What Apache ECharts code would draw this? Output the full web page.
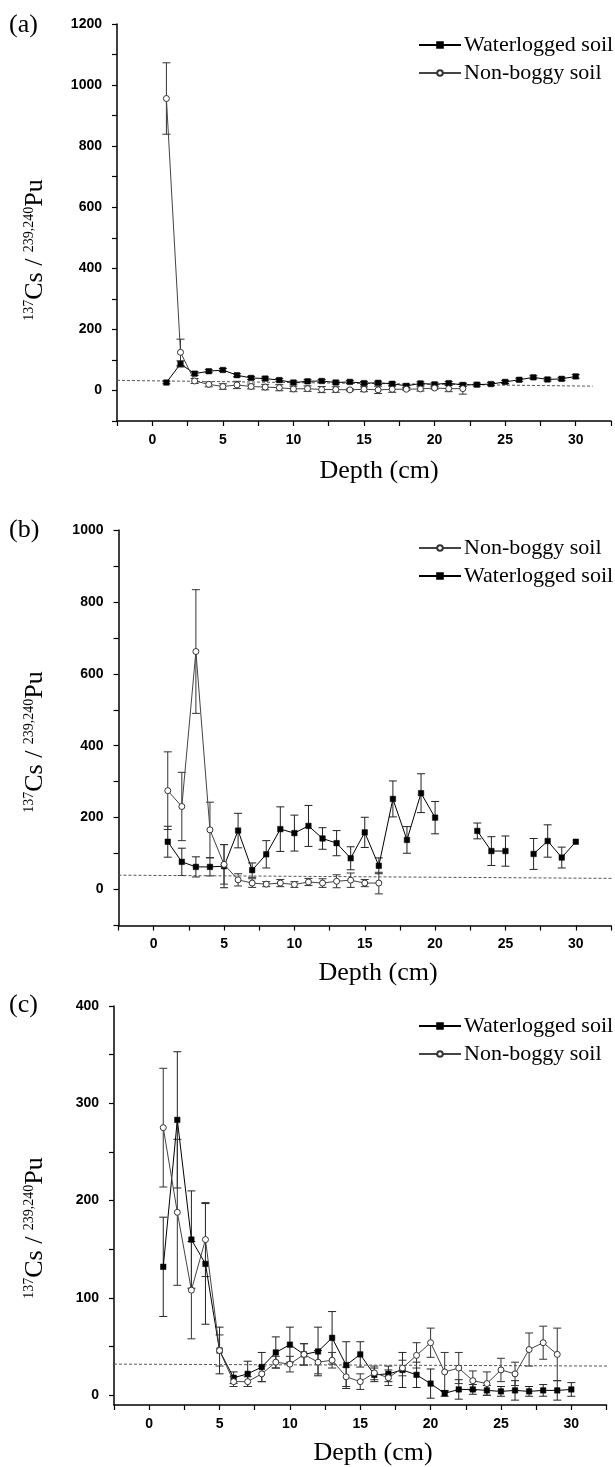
<!DOCTYPE html>
<html>
<head>
<meta charset="utf-8">
<script src="https://cdn.jsdelivr.net/npm/echarts@6/dist/echarts.min.js"></script>
<style>html,body{margin:0;padding:0;background:#fff}#c{width:615px;height:1467px}</style>
</head>
<body>
<div id="c"></div>
<script>
// ---------- data ----------
const depth = [1,2,3,4,5,6,7,8,9,10,11,12,13,14,15,16,17,18,19,20,21,22,23,24,25,26,27,28,29,30];
const xTicksMajor = [0,5,10,15,20,25,30];

// panel (a)
const aWater    = [26,87,55,63,67,50,41,39,34,26,30,31,26,28,24,25,22,15,23,20,24,18,19,21,28,35,43,36,38,46];
const aWaterErr = [4,10,6,5,5,5,5,5,5,5,5,5,5,5,5,5,5,5,5,5,5,5,5,5,5,5,5,5,5,6];
const aNon      = [956,125,31,20,13,18,13,11,9,5,6,3,3,2,4,2,4,4,5,8,6,6];
const aNonErr   = [117,43,8,8,9,12,8,9,10,9,9,10,9,3,8,12,10,4,7,4,10,18];
const aRefX = [-2.5, 31.2], aRefY = [33, 14];
const aYLabels = [0,200,400,600,800,1000,1200];

// panel (b)
const bNon      = [275,231,662,166,70,27,18,15,18,14,21,18,23,26,18,18];
const bNonErr   = [108,95,172,77,55,17,12,7,10,8,10,12,18,20,10,30];
const bWater    = [133,77,63,63,65,164,54,98,168,157,177,142,129,87,159,66,252,138,268,200,null,null,163,107,107,null,99,135,89,133];
const bWaterErr = [43,38,28,25,60,48,20,38,62,50,57,30,35,32,42,22,50,37,54,45,null,null,22,40,42,null,43,45,29,null];
const bRefX = [-2.5, 32.8], bRefY = [40, 31];
const bYLabels = [0,200,400,600,800,1000];

// panel (c)
const cWater    = [132,283,160,135,46,18,22,29,44,52,42,45,59,31,42,21,22,26,21,12,2,6,6,5,4,5,4,5,5,6];
const cWaterErr = [51,70,50,62,24,6,13,15,16,18,11,25,27,24,13,7,8,18,13,15,3,10,5,5,5,10,5,6,10,7];
const cNon      = [275,188,108,160,46,14,14,22,34,32,42,34,36,19,14,23,18,28,41,54,24,28,15,12,26,22,47,54,42];
const cNonErr   = [61,75,50,38,16,5,5,8,6,8,11,12,8,10,8,7,8,8,13,15,20,16,10,12,12,12,17,17,27];
const cRefX = [-2.5, 33.1], cRefY = [32, 30];
const cYTicks  = [0,50,100,150,200,250,300,350,400];
const cYLabels = [0,100,200,300,400];

// ---------- helpers ----------
const W = 'Waterlogged soil', N = 'Non-boggy soil';
const serif = '"Liberation Serif","Times New Roman",serif';
const sans = '"Liberation Sans",Arial,sans-serif';
function pts(ys){ return ys.map((y,i)=>[depth[i], y==null?'-':y]); }
function errs(ys, es){
  const out=[];
  ys.forEach((y,i)=>{ if(y!=null && es[i]!=null) out.push([depth[i], y-es[i], y+es[i]]); });
  return out;
}
function errSeries(idx, data, color){
  return {
    type:'custom', name:'err', xAxisIndex:idx, yAxisIndex:idx, z:1,
    encode:{x:0, y:[1,2]}, data:data,
    renderItem:function(params, api){
      const x=api.value(0), lo=api.coord([x, api.value(1)]), hi=api.coord([x, api.value(2)]);
      const w=4, st={stroke:color, lineWidth:1};
      return {type:'group', children:[
        {type:'line', shape:{x1:hi[0],y1:hi[1],x2:lo[0],y2:lo[1]}, style:st},
        {type:'line', shape:{x1:hi[0]-w,y1:hi[1],x2:hi[0]+w,y2:hi[1]}, style:st},
        {type:'line', shape:{x1:lo[0]-w,y1:lo[1],x2:lo[0]+w,y2:lo[1]}, style:st}
      ]};
    }
  };
}
function wSeries(idx, ys){
  return {type:'line', name:W, xAxisIndex:idx, yAxisIndex:idx, data:pts(ys), z:3,
    symbol:'rect', symbolSize:5.5, connectNulls:false,
    itemStyle:{color:'#000', borderColor:'#000', borderWidth:0.5},
    lineStyle:{color:'#000', width:1}};
}
function nSeries(idx, ys){
  return {type:'line', name:N, xAxisIndex:idx, yAxisIndex:idx, data:pts(ys), z:4,
    symbol:'circle', symbolSize:6,
    itemStyle:{color:'#fff', borderColor:'#333', borderWidth:1},
    lineStyle:{color:'#444', width:1}};
}
function refSeries(idx, xs, ys){
  return {type:'line', name:'ref', xAxisIndex:idx, yAxisIndex:idx, z:2, clip:false,
    data:xs.map((x,i)=>[x, ys[i]]), symbol:'none', silent:true,
    lineStyle:{color:'#555', width:1, type:[3,2]}};
}
function xAxis(idx){
  return {type:'value', gridIndex:idx, min:-2.5, max:32.5, interval:2.5,
    axisLine:{show:true, onZero:false, lineStyle:{color:'#000', width:1.5}},
    axisTick:{show:true, inside:false, length:5, lineStyle:{color:'#000', width:1.2}},
    axisLabel:{margin:12, fontFamily:sans, fontWeight:'bold', fontSize:14, color:'#000',
      formatter:function(v){ return (v % 5 === 0) ? String(v) : ''; }},
    splitLine:{show:false}};
}
function yAxisStep(idx, min, max, labels){
  return {type:'value', gridIndex:idx, min:min, max:max, interval:100,
    axisLine:{show:true, onZero:false, lineStyle:{color:'#000', width:1.5}},
    axisTick:{show:true, inside:false, length:5, lineStyle:{color:'#000', width:1.2}},
    axisLabel:{margin:15, fontFamily:sans, fontWeight:'bold', fontSize:14, color:'#000',
      formatter:function(v){ return labels.indexOf(v) >= 0 ? String(v) : ''; }},
    splitLine:{show:false}};
}
function legend(top, order){
  return {data:order, left:413, top:top, orient:'vertical', selectedMode:false,
    itemWidth:42, itemHeight:7, itemGap:6,
    textStyle:{fontFamily:serif, fontSize:22, color:'#000', lineHeight:22, padding:[0,0,0,-2]}};
}
function ytitle(x, y){
  return {type:'text', x:x, y:y, rotation:Math.PI/2,
    style:{text:'{s|137}Cs / {s|239,240}Pu', fontFamily:serif, fontSize:26, fill:'#000',
      align:'center', verticalAlign:'middle',
      rich:{s:{fontFamily:serif, fontSize:14, fill:'#000', verticalAlign:'top', lineHeight:26}}}};
}
function txt(x, y, t, align){
  return {type:'text', x:x, y:y, style:{text:t, fontFamily:serif, fontSize:26, fill:'#000',
    align:align||'left', verticalAlign:'middle'}};
}

const yC = {type:'value', gridIndex:2, min:-10, max:400,
  axisLine:{show:true, onZero:false, lineStyle:{color:'#000', width:1.5}},
  axisTick:{show:true, inside:false, length:5, customValues:cYTicks, lineStyle:{color:'#000', width:1.2}},
  axisLabel:{margin:15, fontFamily:sans, fontWeight:'bold', fontSize:14, color:'#000', customValues:cYLabels},
  splitLine:{show:false}};

const option = {
  animation:false,
  backgroundColor:'#fff',
  grid:[
    {left:117, top:24, width:494, height:397},
    {left:118.5, top:530, width:492.5, height:395.5},
    {left:114, top:1006, width:492.5, height:399}
  ],
  xAxis:[xAxis(0), xAxis(1), xAxis(2)],
  yAxis:[yAxisStep(0,-100,1200,aYLabels), yAxisStep(1,-100,1000,bYLabels), yC],
  legend:[legend(29,[W,N]), legend(532,[N,W]), legend(1010,[W,N])],
  series:[
    refSeries(0,aRefX,aRefY), errSeries(0, errs(aWater,aWaterErr), '#222'), errSeries(0, errs(aNon,aNonErr), '#333'),
    wSeries(0,aWater), nSeries(0,aNon),
    refSeries(1,bRefX,bRefY), errSeries(1, errs(bWater,bWaterErr), '#222'), errSeries(1, errs(bNon,bNonErr), '#333'),
    nSeries(1,bNon), wSeries(1,bWater),
    refSeries(2,cRefX,cRefY), errSeries(2, errs(cWater,cWaterErr), '#222'), errSeries(2, errs(cNon,cNonErr), '#333'),
    wSeries(2,cWater), nSeries(2,cNon)
  ],
  graphic:[
    txt(9,25,'(a)'), txt(9,530,'(b)'), txt(9,1005,'(c)'),
    ytitle(35,250), ytitle(35,742), ytitle(35,1228),
    txt(379,471,'Depth (cm)','center'), txt(378,973,'Depth (cm)','center'), txt(373,1453,'Depth (cm)','center')
  ]
};
const chart = echarts.init(document.getElementById('c'), null, {renderer:'canvas'});
chart.setOption(option);
</script>
</body>
</html>
